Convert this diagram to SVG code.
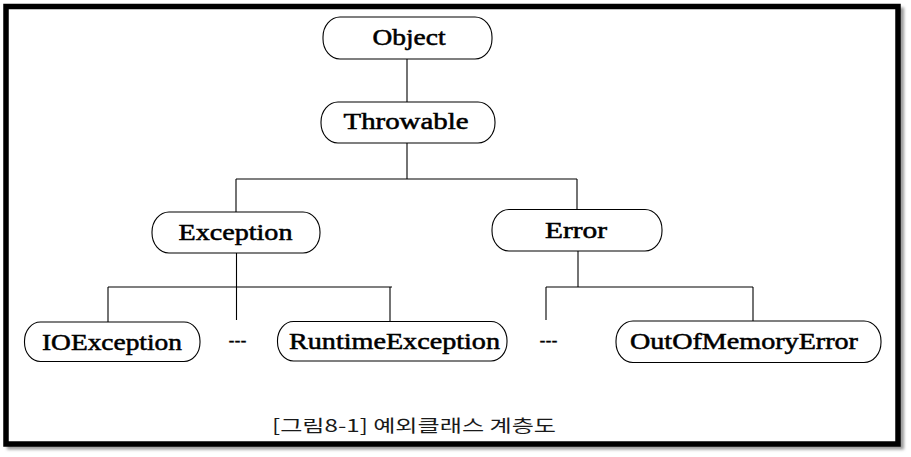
<svg xmlns="http://www.w3.org/2000/svg" width="911" height="457" viewBox="0 0 911 457">
  <defs>
    <filter id="blur" x="-5%" y="-5%" width="110%" height="110%">
      <feGaussianBlur stdDeviation="1.6"/>
    </filter>
  </defs>
  <style>
    .pill { fill: #ffffff; stroke: #000000; stroke-width: 1.1; }
    .lbl { font-family: "Liberation Serif", "Times New Roman", serif; font-weight: normal; font-size: 24px; fill: #000000; stroke: #000000; stroke-width: 0.55; }
    .dots { font-family: "Liberation Sans", Arial, sans-serif; font-size: 16px; fill: #000000; stroke: #000000; stroke-width: 0.3; }
    .conn { stroke: #000000; stroke-width: 1.1; fill: none; }
    .cap { font-family: "Noto Sans CJK KR", "Noto Sans", sans-serif; font-size: 17px; fill: #1a1a1a; }
  </style>
  <rect x="0" y="0" width="911" height="457" fill="#ffffff"/>
  <g id="frame">
    <rect x="9.5" y="10" width="892" height="437" fill="none" stroke="#9a9a9a" stroke-width="5" filter="url(#blur)"/>
    <rect x="6" y="6.5" width="892" height="437.5" fill="#ffffff" stroke="#000000" stroke-width="5.5"/>
  </g>
  <g id="connectors">
    <line class="conn" x1="407" y1="59" x2="407" y2="102"/>
    <line class="conn" x1="407" y1="143" x2="407" y2="179"/>
    <line class="conn" x1="236" y1="179" x2="577" y2="179"/>
    <line class="conn" x1="236" y1="179" x2="236" y2="212"/>
    <line class="conn" x1="577" y1="179" x2="577" y2="209.5"/>
    <line class="conn" x1="236.5" y1="253" x2="236.5" y2="320"/>
    <line class="conn" x1="108" y1="287" x2="392" y2="287"/>
    <line class="conn" x1="108" y1="287" x2="108" y2="322"/>
    <line class="conn" x1="390" y1="287" x2="390" y2="321.5"/>
    <line class="conn" x1="578" y1="251" x2="578" y2="287"/>
    <line class="conn" x1="546" y1="287" x2="753" y2="287"/>
    <line class="conn" x1="546" y1="287" x2="546" y2="320"/>
    <line class="conn" x1="753" y1="287" x2="753" y2="321"/>
  </g>
  <g id="node-object">
    <rect class="pill" x="323" y="17" width="169" height="42" rx="17" ry="20"/>
    <text class="lbl" x="372.5" y="45" textLength="73" lengthAdjust="spacingAndGlyphs">Object</text>
  </g>
  <g id="node-throwable">
    <rect class="pill" x="321" y="102" width="174" height="41" rx="17" ry="20"/>
    <text class="lbl" x="343.5" y="128.5" textLength="125" lengthAdjust="spacingAndGlyphs">Throwable</text>
  </g>
  <g id="node-exception">
    <rect class="pill" x="152" y="212" width="168" height="41" rx="17" ry="20"/>
    <text class="lbl" x="178.5" y="240" textLength="114" lengthAdjust="spacingAndGlyphs">Exception</text>
  </g>
  <g id="node-error">
    <rect class="pill" x="492" y="209.5" width="170" height="41.5" rx="17" ry="20"/>
    <text class="lbl" x="545" y="237.5" textLength="62" lengthAdjust="spacingAndGlyphs">Error</text>
  </g>
  <g id="node-ioexception">
    <rect class="pill" x="24.5" y="322" width="175.5" height="39.5" rx="16" ry="19"/>
    <text class="lbl" x="42" y="350" textLength="140" lengthAdjust="spacingAndGlyphs">IOException</text>
  </g>
  <g id="node-ellipsis-1">
    <text class="dots" x="228.5" y="346" textLength="18" lengthAdjust="spacingAndGlyphs">---</text>
  </g>
  <g id="node-runtimeexception">
    <rect class="pill" x="277.5" y="321.5" width="229.5" height="39.5" rx="16" ry="19"/>
    <text class="lbl" x="289" y="349" textLength="211" lengthAdjust="spacingAndGlyphs">RuntimeException</text>
  </g>
  <g id="node-ellipsis-2">
    <text class="dots" x="539.5" y="345.5" textLength="18" lengthAdjust="spacingAndGlyphs">---</text>
  </g>
  <g id="node-outofmemoryerror">
    <rect class="pill" x="616" y="321" width="265" height="41.5" rx="17" ry="20"/>
    <text class="lbl" x="630" y="348.5" textLength="228" lengthAdjust="spacingAndGlyphs">OutOfMemoryError</text>
  </g>
  <g id="caption">
    <text class="cap" x="272" y="432" textLength="284" lengthAdjust="spacingAndGlyphs">[그림8-1] 예외클래스 계층도</text>
  </g>
</svg>
